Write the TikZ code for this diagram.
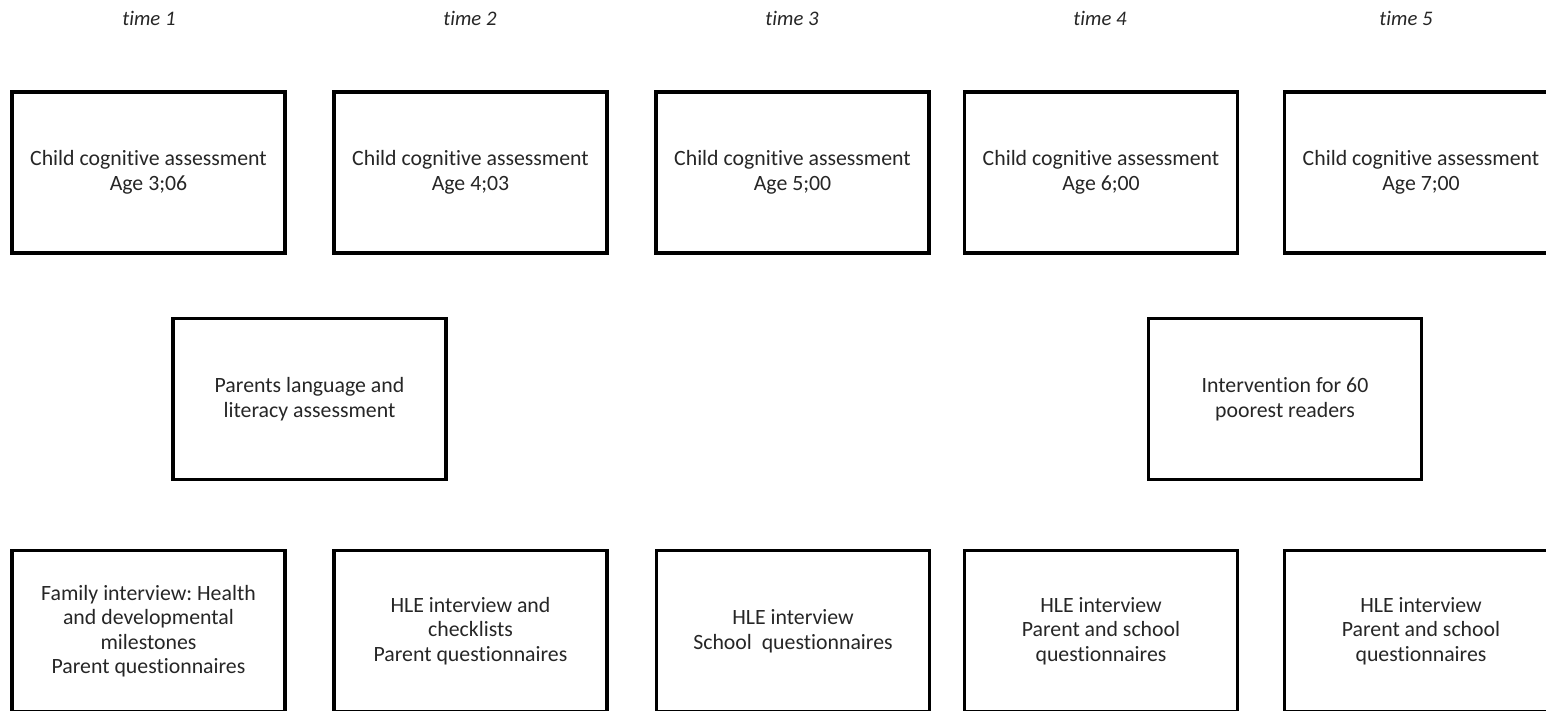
\documentclass[tikz,border=0pt]{standalone}
\usepackage{fontspec}
\setmainfont{Carlito}[Ligatures=NoCommon]
\frenchspacing
\begin{document}
\begin{tikzpicture}[x=1pt,y=-1pt,
  stagebox/.style={draw=black, line width=3.5pt, minimum width=273pt, minimum height=161pt,
    inner sep=0pt, align=center, text=black!85,
    font=\fontsize{21.8pt}{24.5pt}\selectfont},
  timelabel/.style={text=black!85, font=\fontsize{20.7pt}{24pt}\selectfont\itshape}]
\useasboundingbox (0,0) rectangle (1546,710);
\clip (0,0) rectangle (1546,710);

% time labels
\node[timelabel] (t1) at (149,18) {time 1};
\node[timelabel] (t2) at (470,18) {time 2};
\node[timelabel] (t3) at (792,18) {time 3};
\node[timelabel] (t4) at (1100,18) {time 4};
\node[timelabel] (t5) at (1406,18) {time 5};

% child cognitive assessments
\node[stagebox] (c1) at (148.5,172.5) {Child cognitive assessment\\Age 3;06};
\node[stagebox] (c2) at (470.5,172.5) {Child cognitive assessment\\Age 4;03};
\node[stagebox] (c3) at (792.5,172.5) {Child cognitive assessment\\Age 5;00};
\node[stagebox] (c4) at (1101,172.5) {Child cognitive assessment\\Age 6;00};
\node[stagebox] (c5) at (1421,172.5) {Child cognitive assessment\\Age 7;00};

% middle row
\node[stagebox] (parents) at (309.5,399) {Parents language and\\literacy assessment};
\node[stagebox] (interv) at (1285,399) {Intervention for 60\\poorest readers};

% interviews and questionnaires
\node[stagebox] (q1) at (148.5,631) {Family interview: Health\\and developmental\\milestones\\Parent questionnaires};
\node[stagebox] (q2) at (470.5,631) {HLE interview and\\checklists\\Parent questionnaires};
\node[stagebox] (q3) at (793,631) {HLE interview\\School\ \ questionnaires};
\node[stagebox] (q4) at (1101,631) {HLE interview\\Parent and school\\questionnaires};
\node[stagebox] (q5) at (1421,631) {HLE interview\\Parent and school\\questionnaires};
\end{tikzpicture}
\end{document}
